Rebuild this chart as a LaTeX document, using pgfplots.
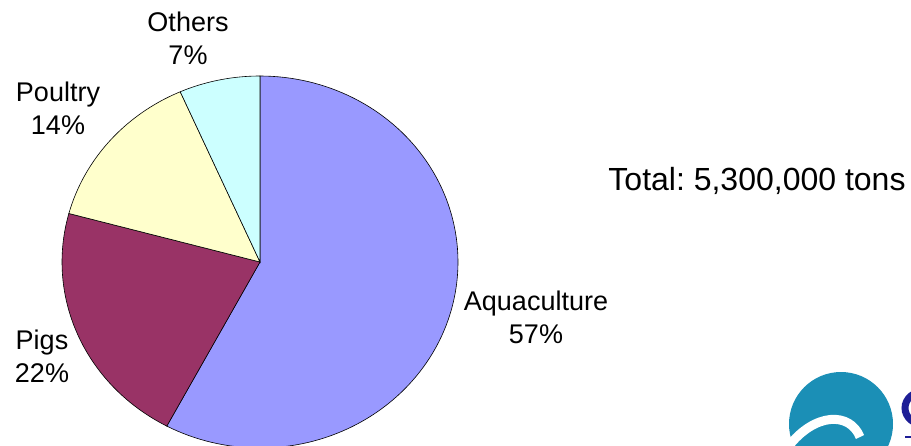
\documentclass[border=0pt]{standalone}
\usepackage{pgfplots}
\pgfplotsset{compat=1.18}
\usepackage{fontspec}
\setmainfont{Liberation Sans}
\frenchspacing
\definecolor{cAqua}{HTML}{9999FF}
\definecolor{cPigs}{HTML}{993366}
\definecolor{cPoul}{HTML}{FFFFCC}
\definecolor{cOth}{HTML}{CCFFFF}
\definecolor{cLogo}{HTML}{1B8FB6}
\definecolor{cNavy}{HTML}{1E1E96}
% shares in percent (as drawn)
\def\vAqua{57.8}
\def\vPigs{21.4}
\def\vPoul{14.2}
\def\vOth{6.6}
\pgfmathsetmacro\aA{90}
\pgfmathsetmacro\aB{\aA-3.6*\vAqua}
\pgfmathsetmacro\aC{\aB-3.6*\vPigs}
\pgfmathsetmacro\aD{\aC-3.6*\vPoul}
\pgfmathsetmacro\aE{\aD-3.6*\vOth}
\begin{document}
\begin{tikzpicture}
\useasboundingbox (0,0) rectangle (911pt,445pt);
\clip (0,0) rectangle (911pt,445pt);
\begin{axis}[at={(0,0)}, anchor=south west,
  width=911pt, height=445pt, scale only axis,
  xmin=-260, xmax=651, ymin=-183, ymax=262,
  hide axis, clip=true]
\addplot[fill=cAqua, draw=black, line width=0.6pt, domain=\aB:\aA, samples=120, variable=\t] ({198*cos(t)}, {186*sin(t)}) -- (axis cs:0,0) -- cycle;
\addplot[fill=cPigs, draw=black, line width=0.6pt, domain=\aC:\aB, samples=60, variable=\t] ({198*cos(t)}, {186*sin(t)}) -- (axis cs:0,0) -- cycle;
\addplot[fill=cPoul, draw=black, line width=0.6pt, domain=\aD:\aC, samples=50, variable=\t] ({198*cos(t)}, {186*sin(t)}) -- (axis cs:0,0) -- cycle;
\addplot[fill=cOth, draw=black, line width=0.6pt, domain=\aE:\aD, samples=30, variable=\t] ({198*cos(t)}, {186*sin(t)}) -- (axis cs:0,0) -- cycle;
\tikzset{lab/.style={align=center, font=\fontsize{27}{33}\selectfont, inner sep=0pt}}
\node[lab] at (axis cs:-72,224) {Others\\7\%};
\node[lab] at (axis cs:-202,154) {Poultry\\14\%};
\node[lab] at (axis cs:-218,-94) {Pigs\\22\%};
\node[lab] at (axis cs:276,-55) {Aquaculture\\57\%};
\node[inner sep=0pt, font=\fontsize{32}{38}\selectfont] at (axis cs:497,81) {Total: 5,300,000 tons};
% logo (partial)
\fill[cLogo] (axis cs:581,-162) circle[radius=52pt];
\draw[white, line width=9pt] (axis cs:528,-185) .. controls (axis cs:555,-150) and (axis cs:590,-150) .. (axis cs:600,-175);
\draw[cNavy, line width=7pt] (axis cs:665,-146) ellipse[x radius=20pt, y radius=17pt];
\draw[cNavy, line width=1.5pt] (axis cs:645,-175) -- (axis cs:660,-175);
\end{axis}
\end{tikzpicture}
\end{document}
